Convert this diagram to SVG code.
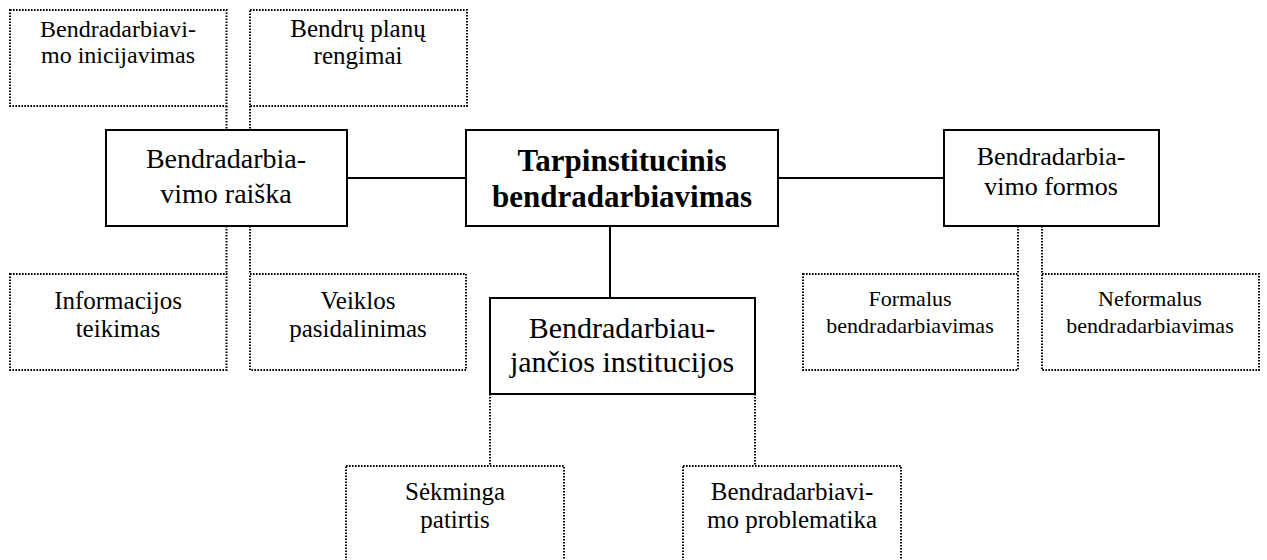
<svg xmlns="http://www.w3.org/2000/svg" width="1267" height="560" viewBox="0 0 1267 560">
<style>
.solid{fill:#fff;stroke:#000;stroke-width:2}
.dot{fill:#fff;stroke:#000;stroke-width:2;stroke-dasharray:1.6 1.4}
.ln{stroke:#000;stroke-width:2;fill:none}
.dl{stroke:#000;stroke-width:2;fill:none;stroke-dasharray:1.6 1.4}
text{font-family:"Liberation Serif","Times New Roman",serif;fill:#000;text-anchor:middle}
.s22{font-size:22px}.s24{font-size:24px}.s25{font-size:25px}.s26{font-size:26px}.s28{font-size:28px}.s30{font-size:30px}
.b{font-size:31px;font-weight:bold}
</style>
<rect width="1267" height="560" fill="#fff"/>
<g id="connectors">
<line class="ln" x1="347" y1="178" x2="466" y2="178"/>
<line class="ln" x1="778" y1="178" x2="944" y2="178"/>
<line class="ln" x1="610" y1="226" x2="610" y2="298"/>
<line class="dl" x1="226.5" y1="106" x2="226.5" y2="130"/>
<line class="dl" x1="250" y1="106" x2="250" y2="130"/>
<line class="dl" x1="226.5" y1="226" x2="226.5" y2="274"/>
<line class="dl" x1="250" y1="226" x2="250" y2="274"/>
<line class="dl" x1="1018" y1="226" x2="1018" y2="274"/>
<line class="dl" x1="1042" y1="226" x2="1042" y2="274"/>
<line class="dl" x1="490" y1="394" x2="490" y2="466"/>
<line class="dl" x1="755" y1="394" x2="755" y2="466"/>
</g>
<g id="n-inicijavimas"><rect class="dot" x="10" y="10" width="216.5" height="96"/><text class="s24" x="118" y="37">Bendradarbiavi-</text><text class="s24" x="118" y="63">mo inicijavimas</text></g>
<g id="n-planu"><rect class="dot" x="250" y="10" width="217" height="96"/><text class="s25" x="358" y="37">Bendrų planų</text><text class="s25" x="358" y="64">rengimai</text></g>
<g id="n-raiska"><rect class="solid" x="106" y="130" width="241" height="96"/><text class="s28" x="226" y="168">Bendradarbia-</text><text class="s28" x="226" y="203">vimo raiška</text></g>
<g id="n-center"><rect class="solid" x="466" y="130" width="312" height="96"/><text class="b" x="622" y="171">Tarpinstitucinis</text><text class="b" x="622" y="207">bendradarbiavimas</text></g>
<g id="n-formos"><rect class="solid" x="944" y="130" width="215" height="96"/><text class="s26" x="1051" y="165">Bendradarbia-</text><text class="s26" x="1051" y="195">vimo formos</text></g>
<g id="n-informacijos"><rect class="dot" x="10" y="274" width="216.5" height="96"/><text class="s25" x="118" y="309">Informacijos</text><text class="s25" x="118" y="337">teikimas</text></g>
<g id="n-veiklos"><rect class="dot" x="250" y="274" width="216" height="96"/><text class="s25" x="358" y="309">Veiklos</text><text class="s25" x="358" y="337">pasidalinimas</text></g>
<g id="n-formalus"><rect class="dot" x="803" y="274" width="215" height="96"/><text class="s22" x="910" y="306">Formalus</text><text class="s22" x="910" y="333">bendradarbiavimas</text></g>
<g id="n-neformalus"><rect class="dot" x="1042" y="274" width="217" height="96"/><text class="s22" x="1150" y="306">Neformalus</text><text class="s22" x="1150" y="333">bendradarbiavimas</text></g>
<g id="n-institucijos"><rect class="solid" x="490" y="298" width="265" height="96"/><text class="s30" x="622" y="338">Bendradarbiau-</text><text class="s30" x="622" y="372">jančios institucijos</text></g>
<g id="n-sekminga"><rect class="dot" x="346" y="466" width="218" height="110"/><text class="s25" x="455" y="500">Sėkminga</text><text class="s25" x="455" y="528">patirtis</text></g>
<g id="n-problematika"><rect class="dot" x="683" y="466" width="218" height="110"/><text class="s25" x="792" y="500">Bendradarbiavi-</text><text class="s25" x="792" y="528">mo problematika</text></g>
</svg>
